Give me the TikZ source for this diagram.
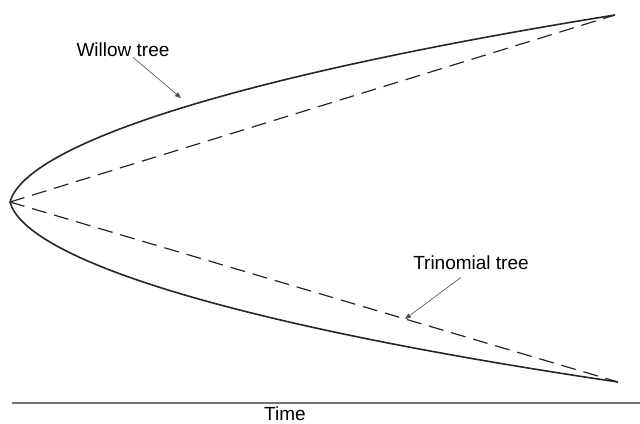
\documentclass[tikz,border=0pt]{standalone}
\usepackage{fontspec}
\setmainfont{Liberation Sans}
\usetikzlibrary{arrows.meta,positioning}

\begin{document}
\begin{tikzpicture}[
  x=0.5pt, y=-0.5pt,
  willowline/.style={line width=0.8pt, black!85},
  trinline/.style={line width=0.6pt, black!85, dash pattern=on 7.5pt off 4pt},
  leader/.style={line width=0.3pt, black!70, -{Triangle[length=3pt, width=2.4pt]}},
  lbl/.style={font=\fontsize{9.5}{11}\selectfont, inner sep=0pt},
  axis/.style={line width=0.6pt, black!55}
]
  \useasboundingbox (0,0) rectangle (640,423);

  % End points of the trees
  \coordinate (apex) at (10,202);
  \coordinate (up) at (615,15);
  \coordinate (down) at (618,382);

  % Willow tree
  \draw[willowline] (apex) .. controls (24,150) and (200,82) .. (up);
  \draw[willowline] (apex) .. controls (24,254) and (200,320) .. (down);

  % Trinomial tree
  \draw[trinline] (apex) -- (up);
  \draw[trinline] (apex) -- (down);

  % Labels
  \node[lbl] (willow) at (123,50) {Willow tree};
  \coordinate (wtip) at (181,98);
  \draw[leader] (willow.south) ++(10,0) coordinate (wfoot) -- (wtip);

  \node[lbl] (trinomial) at (471,263) {Trinomial tree};
  \coordinate (ttip) at (405,319);
  \draw[leader] (trinomial.south) ++(-10,7) coordinate (tfoot) -- (ttip);

  % Time axis
  \coordinate (t0) at (12,403);
  \coordinate (t1) at (640,403);
  \draw[axis] (t0) -- (t1);
  \node[lbl] (time) at (285,414) {Time};
\end{tikzpicture}
\end{document}
